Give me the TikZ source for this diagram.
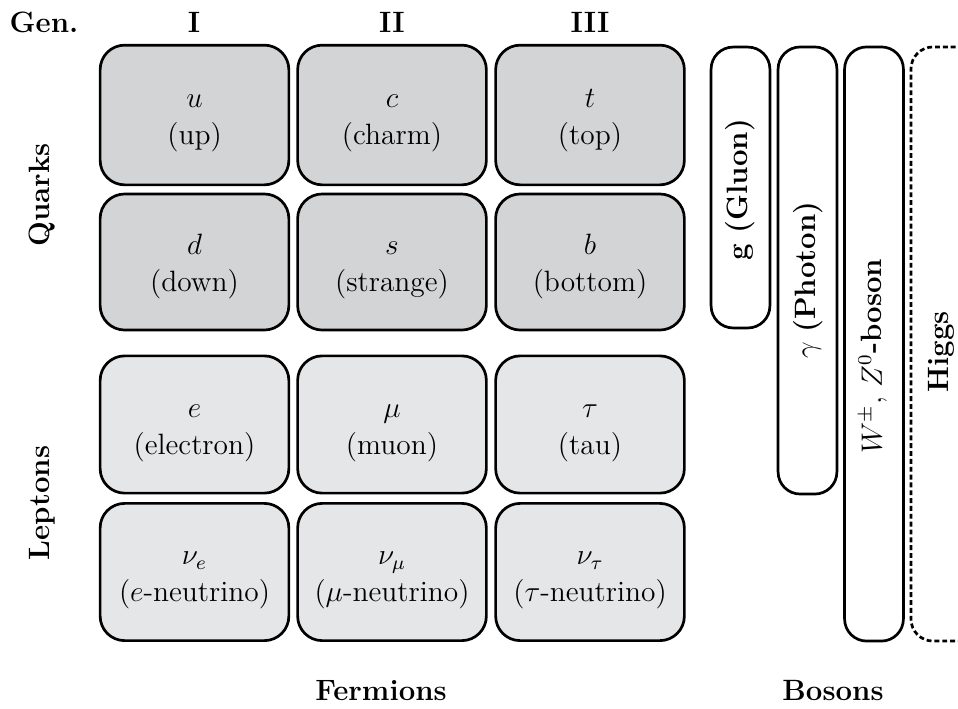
\documentclass[tikz,border=0pt]{standalone}
\usepackage{xcolor}
\definecolor{quarkgray}{RGB}{211,212,214}
\definecolor{leptongray}{RGB}{229,230,232}
\newcommand\pcell[2]{\strut#1\\\strut#2}
\begin{document}
\begin{tikzpicture}[x=0.408pt,y=-0.408pt,
  ptext/.style={align=center, inner sep=0pt, yshift=-1.6pt, font={\fontsize{12}{15}\selectfont}},
  fbox/.style={draw, line width=1.1pt, rounded corners=10pt, minimum width=77pt, minimum height=56pt, inner sep=0pt, label={[ptext]center:{#1}}},
  quark/.style={fbox={#1}, fill=quarkgray},
  lepton/.style={fbox={#1}, fill=leptongray},
  bbox/.style={draw, line width=1.1pt, rounded corners=9pt, minimum width=24pt, inner sep=0pt},
  hdr/.style={font=\large\bfseries, anchor=base},
  vlab/.style={rotate=90, font=\large\bfseries}]
\useasboundingbox (0,0) rectangle (958,708);
% headers
\node[hdr] (gen) at (44,32) {Gen.};
\node[hdr] (g1) at (194,32) {I};
\node[hdr] (g2) at (392,32) {II};
\node[hdr] (g3) at (590,32) {III};
\node[vlab] (quarks) at (42,195) {Quarks};
\node[vlab] (leptons) at (42,503) {Leptons};
\node[hdr] (fermions) at (381,700) {Fermions};
\node[hdr] (bosons) at (833,700) {Bosons};
% quarks
\node[quark={\pcell{$u$}{(up)}}, minimum height=57pt] (u) at (194.5,115) {};
\node[quark={\pcell{$c$}{(charm)}}, minimum height=57pt] (c) at (392,115) {};
\node[quark={\pcell{$t$}{(top)}}, minimum height=57pt] (t) at (590,115) {};
\node[quark={\pcell{$d$}{(down)}}, minimum height=55.5pt] (d) at (194.5,262) {};
\node[quark={\pcell{$s$}{(strange)}}, minimum height=55.5pt] (s) at (392,262) {};
\node[quark={\pcell{$b$}{(bottom)}}, minimum height=55.5pt] (b) at (590,262) {};
% leptons
\node[lepton={\pcell{$e$}{(electron)}}] (e) at (194.5,424.5) {};
\node[lepton={\pcell{$\mu$}{(muon)}}] (mu) at (392,424.5) {};
\node[lepton={\pcell{$\tau$}{(tau)}}] (tau) at (590,424.5) {};
\node[lepton={\pcell{$\nu_e$}{($e$-neutrino)}}] (nue) at (194.5,572) {};
\node[lepton={\pcell{$\nu_\mu$}{($\mu$-neutrino)}}] (numu) at (392,572) {};
\node[lepton={\pcell{$\nu_\tau$}{($\tau$-neutrino)}}] (nutau) at (590,572) {};
% bosons
\node[bbox, minimum height=114.6pt] (gluon) at (740.5,187.5) {};
\node[bbox, minimum height=182.4pt] (photon) at (807.5,270.5) {};
\node[bbox, minimum height=242.4pt] (wz) at (874,344) {};
\begin{scope}
\clip (0,0) rectangle (958,708);
\node[draw, line width=1.1pt, dash pattern=on 2pt off 1.2pt, rounded corners=9pt, minimum width=40pt, minimum height=242.4pt, inner sep=0pt] (higgs) at (960,344) {};
\end{scope}
\node[rotate=90] (gluonlab) at (740,190) {\large\bfseries g (Gluon)};
\node[rotate=90] (photonlab) at (808,280) {\large$\gamma$ \bfseries(Photon)};
\node[rotate=90] (wzlab) at (873,356) {\large$W^{\pm}$, $Z^0$\bfseries-boson};
\node[vlab] (higgslab) at (941,352) {Higgs};
\end{tikzpicture}
\end{document}
